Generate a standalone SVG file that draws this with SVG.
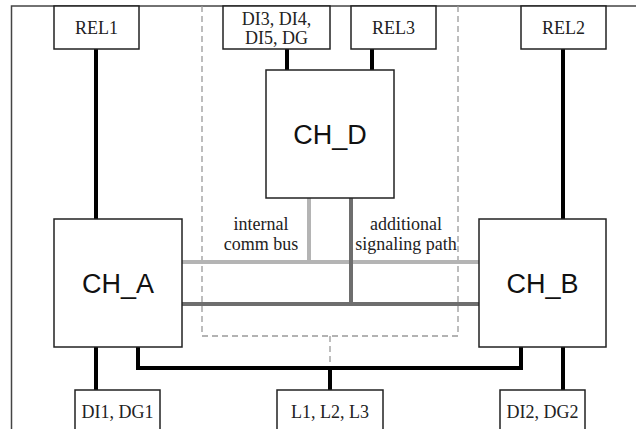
<svg xmlns="http://www.w3.org/2000/svg" width="636" height="429" viewBox="0 0 636 429">
<style>
.box{fill:#fff;stroke:#222;stroke-width:1.5}
.s{font-family:"Liberation Serif","Times New Roman",serif;font-size:18px;fill:#222;text-anchor:middle}
.big{font-family:"Liberation Sans",Arial,sans-serif;font-size:27px;fill:#111;text-anchor:middle}
.blk{stroke:#000;stroke-width:4;fill:none}
.lg{stroke:#b4b4b4;stroke-width:4;fill:none}
.dg{stroke:#6e6e6e;stroke-width:4;fill:none}
.dash{stroke:#9a9a9a;stroke-width:1.3;stroke-dasharray:6,4;fill:none}
</style>
<rect width="636" height="429" fill="#fff"/>
<rect x="11.5" y="6" width="700" height="500" fill="none" stroke="#444" stroke-width="1.5"/>
<g id="connectors">
<path class="dash" d="M202 6 V336 H458 V6"/>
<path class="dash" d="M330 336 V368"/>
<path class="blk" d="M96 49 V219"/>
<path class="blk" d="M563 49 V219"/>
<path class="blk" d="M287 49 V70"/>
<path class="blk" d="M372 49 V70"/>
<path class="lg" d="M309 198 V262"/>
<path class="lg" d="M182 262 H479"/>
<path class="dg" d="M351 198 V304"/>
<path class="dg" d="M182 304 H479"/>
<path class="blk" d="M138 347 V368 H521 V347"/>
<path class="blk" d="M330 368 V390"/>
<path class="blk" d="M96 347 V390"/>
<path class="blk" d="M563 347 V390"/>
<text class="s" x="261" y="230">internal</text>
<text class="s" x="261" y="250">comm bus</text>
<text class="s" x="406" y="230">additional</text>
<text class="s" x="406" y="250">signaling path</text>
</g>
<g id="REL1"><rect class="box" x="54" y="6" width="85" height="43"/><text class="s" x="96.5" y="34">REL1</text></g>
<g id="DI3"><rect class="box" x="223" y="6" width="107" height="43"/><text class="s" x="276.5" y="25">DI3, DI4,</text><text class="s" x="276.5" y="44">DI5, DG</text></g>
<g id="REL3"><rect class="box" x="351" y="6" width="85" height="43"/><text class="s" x="393.5" y="34">REL3</text></g>
<g id="REL2"><rect class="box" x="521" y="6" width="85" height="43"/><text class="s" x="563.5" y="34">REL2</text></g>
<g id="CH_D"><rect class="box" x="266" y="70" width="128" height="128"/><text class="big" x="330" y="144">CH_D</text></g>
<g id="CH_A"><rect class="box" x="54" y="219" width="128" height="128"/><text class="big" x="118" y="293">CH_A</text></g>
<g id="CH_B"><rect class="box" x="479" y="219" width="127" height="128"/><text class="big" x="542.5" y="293">CH_B</text></g>
<g id="DI1"><rect class="box" x="75" y="390" width="85" height="60"/><text class="s" x="117.5" y="418">DI1, DG1</text></g>
<g id="L1"><rect class="box" x="277" y="390" width="106" height="60"/><text class="s" x="330" y="418">L1, L2, L3</text></g>
<g id="DI2"><rect class="box" x="500" y="390" width="85" height="60"/><text class="s" x="542.5" y="418">DI2, DG2</text></g>
</svg>
